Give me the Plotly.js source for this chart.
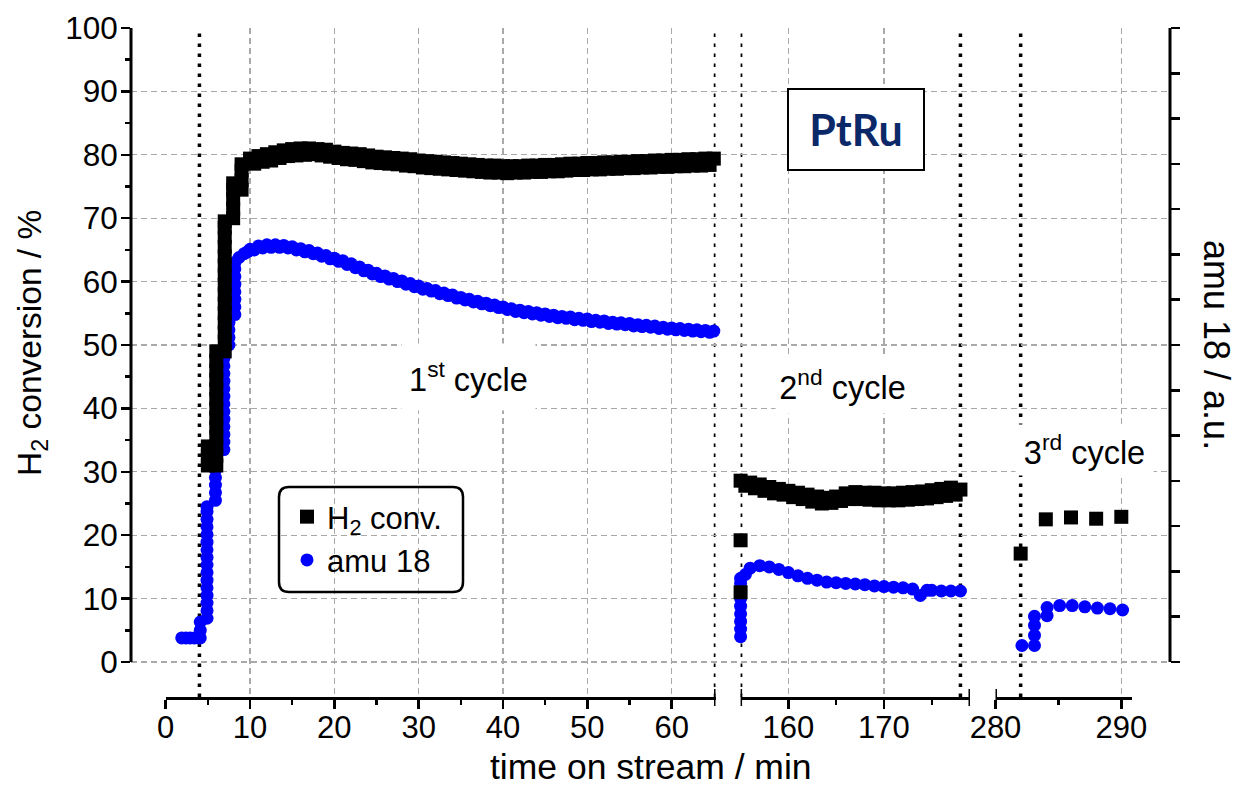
<!DOCTYPE html>
<html>
<head>
<meta charset="utf-8">
<script src="https://cdn.plot.ly/plotly-3.0.1.min.js"></script>
<style>html,body{margin:0;padding:0;background:#fff;}#chart{width:1240px;height:789px;}</style>
</head>
<body>
<div id="chart"></div>
<script>
// ---------------- DATA ----------------
// 1st cycle: initial rise (time 2-10 min)
const c1RiseTimeH2 = [5,5,5, 6,6,6,6,6,6,6,6,6,6,6,6,6, 7,7,7,7,7,7,7,7,7,7,7,7,7,7,7, 8,8,8,8,8, 9,9,9,9];
const c1RiseH2 = [31,32.5,34, 31,32.5,34,35.5,37,38.5,40,41.5,43,44.5,46,47.5,49,
  49,50.5,52,53.5,55,56.5,58,59.5,61,62.5,64,65.5,67,68.5,69.5, 70,71.5,73,74.5,75.5, 74.5,76,77.5,78.5];
const c1RiseTimeAmu = [1.9,2.4,2.9,3.4,3.9,4.1, 4.1,4.1,
  4.9,4.9,4.9,4.9,4.9,4.9,4.9,4.9,4.9,4.9,4.9,4.9,4.9,4.9,4.9,4.9,
  5.9,5.9,5.9,5.9,5.9,5.9,5.9,5.9,
  6.9,6.9,6.9,6.9,6.9,6.9,6.9,6.9,6.9,6.9,6.9,6.9,6.9,6.9,
  7.5,7.5,7.5,7.5, 8.2,8.2,8.2,8.2,8.2,8.2,8.2,8.2, 8.7,9.3,9.7];
const c1RiseAmu = [3.8,3.8,3.8,3.8,3.8,3.8, 5.0,6.3,
  6.9,8.1,9.3,10.5,11.7,12.9,14.1,15.3,16.5,17.7,18.9,20.1,21.3,22.5,23.7,24.5,
  25.5,26.7,27.9,29.1,30.3,31.5,32.7,33.2,
  33.5,34.7,35.9,37.1,38.3,39.5,40.7,41.9,43.1,44.3,45.5,46.7,47.9,48.8,
  50,51.2,52.4,53.6, 54.8,56,57.2,58.4,59.6,60.8,62,63, 63.8,64.4,64.7];

// 1st cycle: steady part (time 10-65 min)
const c1Time = [10,10.5,11,11.5,12,12.5,13,13.5,14,14.5,15,15.5,16,16.5,17,17.5,18,18.5,19,19.5,
  20,20.5,21,21.5,22,22.5,23,23.5,24,24.5,25,25.5,26,26.5,27,27.5,28,28.5,29,29.5,
  30,30.5,31,31.5,32,32.5,33,33.5,34,34.5,35,35.5,36,36.5,37,37.5,38,38.5,39,39.5,
  40,40.5,41,41.5,42,42.5,43,43.5,44,44.5,45,45.5,46,46.5,47,47.5,48,48.5,49,49.5,
  50,50.5,51,51.5,52,52.5,53,53.5,54,54.5,55,55.5,56,56.5,57,57.5,58,58.5,59,59.5,
  60,60.5,61,61.5,62,62.5,63,63.5,64,64.5,65];
const c1H2 = [79.4,78.6,79.8,78.9,80.1,79.1,80.4,79.5,80.7,79.8,80.9,79.9,81.0,80.0,81.0,80.1,80.9,79.9,80.8,79.7,
  80.5,79.5,80.3,79.3,80.2,79.2,80.1,79.0,79.9,78.8,79.7,78.7,79.6,78.6,79.5,78.5,79.4,78.3,79.3,78.2,
  79.1,78.0,79.0,77.9,78.9,77.8,78.8,77.7,78.7,77.6,78.6,77.5,78.5,77.4,78.4,77.3,78.3,77.2,78.3,77.2,
  78.2,77.1,78.2,77.2,78.2,77.2,78.3,77.3,78.3,77.3,78.4,77.4,78.4,77.4,78.5,77.5,78.6,77.6,78.6,77.6,
  78.7,77.7,78.7,77.7,78.8,77.8,78.8,77.8,78.9,77.9,78.9,77.9,79.0,78.0,79.0,78.0,79.1,78.1,79.1,78.1,
  79.2,78.2,79.2,78.2,79.3,78.3,79.3,78.3,79.4,78.4,79.4];
const c1Amu = [65.1,65.0,65.6,65.3,65.8,65.4,65.8,65.4,65.7,65.3,65.5,65.0,65.2,64.7,64.9,64.4,64.5,64.0,64.1,63.6,
  63.7,63.2,63.3,62.7,62.8,62.2,62.3,61.7,61.8,61.2,61.3,60.8,60.9,60.4,60.5,60.0,60.1,59.6,59.7,59.2,
  59.3,58.8,58.9,58.5,58.6,58.1,58.2,57.8,57.9,57.4,57.5,57.1,57.2,56.8,56.9,56.5,56.6,56.2,56.3,55.9,
  56.0,55.6,55.7,55.3,55.5,55.1,55.3,54.9,55.1,54.7,54.9,54.5,54.7,54.3,54.5,54.2,54.4,54.0,54.2,53.9,
  54.1,53.7,53.9,53.6,53.8,53.4,53.6,53.3,53.5,53.2,53.4,53.0,53.2,52.9,53.1,52.8,53.0,52.6,52.8,52.5,
  52.7,52.4,52.6,52.3,52.5,52.2,52.4,52.1,52.3,52.0,52.2];

// 2nd cycle (time 155-178 min)
const c2TimeH2 = [155,155, 155,155.5,156,156.5,157,157.5,158,158.5,159,159.5,160,160.5,161,161.5,162,162.5,163,163.5,164,164.5,
  165,165.5,166,166.5,167,167.5,168,168.5,169,169.5,170,170.5,171,171.5,172,172.5,173,173.5,174,174.5,175,175.5,176,176.5,177,177.5,178];
const c2H2 = [19.2,11.0, 28.6,27.8,28.3,27.4,28.0,27.0,27.6,26.6,27.3,26.4,27.0,26.0,26.7,25.7,26.4,25.3,26.1,25.0,25.9,25.1,
  26.1,25.4,26.6,25.7,26.8,25.7,26.7,25.6,26.7,25.5,26.6,25.5,26.6,25.5,26.7,25.6,26.8,25.7,26.9,25.8,27.1,26.0,27.3,26.2,27.5,26.4,27.2];
const c2TimeAmu = [155,155,155,155,155,155,155,155,155, 155.5,156,157,158,159,160,161,162,163,164,165,166,167,168,169,170,
  171,172,173,173.8,174.5,175,176,177,178];
const c2Amu = [4.0,5.2,6.4,7.6,8.8,10.0,11.2,12.4,13.2, 13.8,14.8,15.2,15.0,14.6,14.1,13.6,13.2,12.9,12.6,12.5,12.4,12.3,12.2,12.0,11.9,
  11.8,11.7,11.5,10.5,11.3,11.3,11.2,11.2,11.2];

// 3rd cycle (time 282-290 min)
const c3TimeH2 = [282,284,286,288,290];
const c3H2 = [17.1,22.5,22.8,22.6,22.9];
const c3TimeAmu = [282.1,283.1,283.1,283.1,283.1,284.1,284.1,285.1,286.1,287.1,288.1,289.1,290.1];
const c3Amu = [2.6,2.6,4.2,5.8,7.2,7.3,8.6,8.9,8.9,8.7,8.5,8.4,8.2];

// cycle boundary markers (dotted lines), per axis segment
const cycleLinesSeg1 = [4, 65.2];
const cycleLinesSeg2 = [155, 178];
const cycleLinesSeg3 = [282];

// axis ticks
const seg1Ticks = [0,10,20,30,40,50,60];
const seg1Minor = [5,15,25,35,45,55];
const seg2Ticks = [160,170];
const seg2Minor = [165,175];
const seg3Ticks = [280,290];
const seg3Minor = [285];
const yTicks = [0,10,20,30,40,50,60,70,80,90,100];
const yMinor = [5,15,25,35,45,55,65,75,85,95];
const rightTickCount = 14;

const seriesNames = ['H<sub>2</sub> conv.', 'amu 18'];
const cycleLabels = ['1<sup>st</sup> cycle', '2<sup>nd</sup> cycle', '3<sup>rd</sup> cycle'];
const sampleLabel = 'PtRu';

// ---------------- LAYOUT HELPERS ----------------
const W = 1240, H = 789;
const L = 131, R = 70, T = 28, B = 92;
const PW = W - L - R, PH = H - T - B;
const px = v => (v - L) / PW;           // pixel x -> paper
const py = v => (H - B - v) / PH;       // pixel y -> paper
const FONT = 'Liberation Sans, Arial, sans-serif';
const yRange = [-5.52, 100];

const seg = [
  {dom: [px(165.7), px(715.5)], range: [0, 65.2], ticks: seg1Ticks, minor: seg1Minor},
  {dom: [px(740.6), px(970)], range: [155, 179], ticks: seg2Ticks, minor: seg2Minor},
  {dom: [px(995.5), px(1132)], range: [280, 290.85], ticks: seg3Ticks, minor: seg3Minor}
];

function segAxis(s) {
  return {
    domain: s.dom, range: s.range, anchor: 'y',
    showline: true, linewidth: 3, linecolor: '#000',
    ticks: 'outside', ticklen: 9, tickwidth: 2.5, tickcolor: '#000',
    tickmode: 'array', tickvals: s.ticks, ticktext: s.ticks.map(String),
    tickfont: {family: FONT, size: 31, color: '#000'}, ticklabelstandoff: -8,
    minor: {tickmode: 'array', tickvals: s.minor, ticks: 'outside', ticklen: 5, tickwidth: 2.5, tickcolor: '#000', showgrid: false},
    showgrid: true, gridcolor: '#a9a9a9', gridwidth: 1.3, griddash: '6px,4px',
    zeroline: false, fixedrange: true
  };
}

// ---------------- TRACES ----------------
const blueMarker = {symbol: 'circle', size: 13, color: '#0000ff', line: {width: 0}};
const blackMarker = {symbol: 'square', size: 14, color: '#000000', line: {width: 0}};
const traces = [
  {x: [0.5], y: [null], xaxis: 'x', yaxis: 'y', mode: 'markers', showlegend: false, hoverinfo: 'skip'},
  {x: [0.5], y: [null], xaxis: 'x', yaxis: 'y2', mode: 'markers', showlegend: false, hoverinfo: 'skip'},
  {x: [0.5], y: [null], xaxis: 'x', yaxis: 'y3', mode: 'markers', showlegend: false, hoverinfo: 'skip'}
];
const amuSets = [[c1RiseTimeAmu.concat(c1Time), c1RiseAmu.concat(c1Amu), 'x2'], [c2TimeAmu, c2Amu, 'x3'], [c3TimeAmu, c3Amu, 'x4']];
const h2Sets = [[c1RiseTimeH2.concat(c1Time), c1RiseH2.concat(c1H2), 'x2'], [c2TimeH2, c2H2, 'x3'], [c3TimeH2, c3H2, 'x4']];
amuSets.forEach((d, i) => traces.push({
  x: d[0], y: d[1], xaxis: d[2], yaxis: 'y', type: 'scatter', mode: 'markers', name: seriesNames[1],
  marker: blueMarker, cliponaxis: false, legendgroup: 'amu', legendrank: 2, showlegend: i === 0
}));
h2Sets.forEach((d, i) => traces.push({
  x: d[0], y: d[1], xaxis: d[2], yaxis: 'y', type: 'scatter', mode: 'markers', name: seriesNames[0],
  marker: blackMarker, cliponaxis: false, legendgroup: 'h2', legendrank: 1, showlegend: i === 0
}));

// ---------------- SHAPES ----------------
const shapes = [];
const dotted = {color: '#000', width: 3.5, dash: '3.5px,6.5px'};
[[cycleLinesSeg1, 'x2'], [cycleLinesSeg2, 'x3'], [cycleLinesSeg3, 'x4']].forEach(([arr, ax]) => {
  arr.forEach(v => shapes.push({type: 'line', xref: ax, yref: 'paper', x0: v, x1: v, y0: 0, y1: 1, line: dotted, layer: 'below'}));
});
// axis lines for left and right y axes (0..100)
shapes.push({type: 'line', xref: 'paper', yref: 'y', x0: 0, x1: 0, y0: 0, y1: 100, line: {color: '#000', width: 3}});
shapes.push({type: 'line', xref: 'paper', yref: 'y', x0: 1, x1: 1, y0: 0, y1: 100, line: {color: '#000', width: 3}});
// broken-axis end caps
[['x2', 65.2], ['x3', 155], ['x3', 179], ['x4', 280]].forEach(([ax, v]) => shapes.push({
  type: 'line', xref: ax, yref: 'paper', x0: v, x1: v, y0: py(706), y1: py(689), line: {color: '#000', width: 3}
}));
// rounded legend frame
(function () {
  const x0 = px(279), x1 = px(463), yt = py(487), yb = py(592);
  const rx = 10 / PW, ry = 10 / PH;
  const path = `M ${x0 + rx} ${yt} L ${x1 - rx} ${yt} Q ${x1} ${yt} ${x1} ${yt - ry} L ${x1} ${yb + ry} Q ${x1} ${yb} ${x1 - rx} ${yb} ` +
    `L ${x0 + rx} ${yb} Q ${x0} ${yb} ${x0} ${yb + ry} L ${x0} ${yt - ry} Q ${x0} ${yt} ${x0 + rx} ${yt} Z`;
  shapes.push({type: 'path', xref: 'paper', yref: 'paper', path: path, line: {color: '#000', width: 2.5}, layer: 'above'});
})();

// ---------------- ANNOTATIONS ----------------
const annFont = {family: FONT, size: 32.5, color: '#000'};
const base = {xref: 'paper', yref: 'paper', showarrow: false, xanchor: 'center', yanchor: 'middle'};
const annotations = [
  Object.assign({}, base, {text: cycleLabels[0], x: px(468), y: py(377), font: annFont,
    bgcolor: '#fff', width: 133, height: 66, borderpad: 0}),
  Object.assign({}, base, {text: cycleLabels[1], x: px(842), y: py(385), font: annFont,
    bgcolor: '#fff', width: 133, height: 56, borderpad: 0}),
  Object.assign({}, base, {text: cycleLabels[2], x: px(1084), y: py(450), font: annFont,
    bgcolor: '#fff', width: 137, height: 50, borderpad: 0}),
  Object.assign({}, base, {text: '<b>' + sampleLabel + '</b>', x: px(855.5), y: py(129.5),
    font: {family: 'Lato, Noto Sans, sans-serif', size: 43, color: '#0b2868'},
    bgcolor: '#fff', bordercolor: '#000', borderwidth: 2, borderpad: 0, width: 134, height: 79}),
  Object.assign({}, base, {text: 'time on stream / min', x: px(651), y: py(767), font: {family: FONT, size: 35.5, color: '#000'}}),
  Object.assign({}, base, {text: 'H<sub>2</sub> conversion / %', x: px(32), y: py(343), textangle: -90,
    font: {family: FONT, size: 33.5, color: '#000'}}),
  Object.assign({}, base, {text: 'amu 18 / a.u.', x: px(1217), y: py(345), textangle: 90,
    font: {family: FONT, size: 36, color: '#000'}})
];

// ---------------- LAYOUT ----------------
const rightTicks = [];
for (let i = 0; i <= rightTickCount; i++) rightTicks.push(100 * i / rightTickCount);

const layout = {
  width: W, height: H,
  margin: {l: L, r: R, t: T, b: B, pad: 0},
  paper_bgcolor: '#fff', plot_bgcolor: 'rgba(0,0,0,0)',
  font: {family: FONT, color: '#000'},
  showlegend: true,
  legend: {x: px(287), y: py(490), xanchor: 'left', yanchor: 'top', bgcolor: 'rgba(0,0,0,0)', borderwidth: 0,
    font: {family: FONT, size: 31, color: '#000'}, traceorder: 'normal', itemclick: false},
  xaxis: {domain: [0, 1], range: [0, 1], showgrid: false, showline: false, zeroline: false, showticklabels: false, ticks: '', fixedrange: true},
  xaxis2: segAxis(seg[0]),
  xaxis3: segAxis(seg[1]),
  xaxis4: segAxis(seg[2]),
  yaxis: {domain: [0, 1], range: yRange, anchor: 'x', showline: false, zeroline: false, showgrid: false,
    tickmode: 'array', tickvals: yTicks, ticktext: yTicks.map(String),
    ticks: 'outside', ticklen: 9, tickwidth: 2.5, tickcolor: '#000', ticklabelstandoff: -3,
    tickfont: {family: FONT, size: 31.5, color: '#000'},
    minor: {tickmode: 'array', tickvals: yMinor, ticks: 'outside', ticklen: 5, tickwidth: 2.5, tickcolor: '#000', showgrid: false},
    fixedrange: true},
  yaxis2: {overlaying: 'y', side: 'right', anchor: 'x', range: yRange, showline: false, zeroline: false, showgrid: false,
    tickmode: 'array', tickvals: rightTicks, showticklabels: false,
    ticks: 'outside', ticklen: 9, tickwidth: 2.5, tickcolor: '#000', fixedrange: true},
  yaxis3: {overlaying: 'y', anchor: 'x', range: yRange, showline: false, zeroline: false,
    showgrid: true, gridcolor: '#a9a9a9', gridwidth: 1.3, griddash: '6px,4px',
    tickmode: 'array', tickvals: yTicks, showticklabels: false, ticks: '', fixedrange: true},
  shapes: shapes,
  annotations: annotations
};

Plotly.newPlot('chart', traces, layout, {staticPlot: true, displayModeBar: false});
</script>
</body>
</html>
